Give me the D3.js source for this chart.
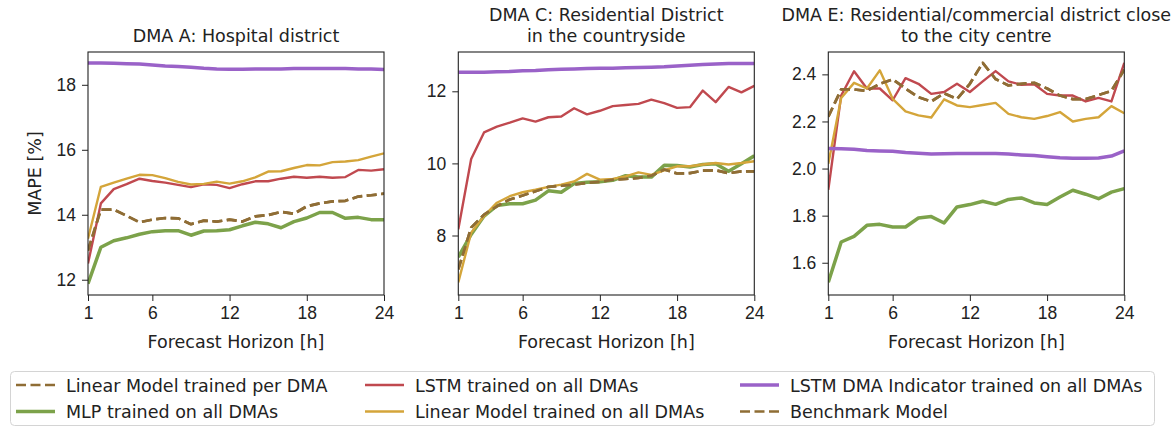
<!DOCTYPE html>
<html>
<head>
<meta charset="utf-8">
<script src="https://cdn.jsdelivr.net/npm/d3@7"></script>
<style>
  html, body { margin: 0; padding: 0; background: #fff; }
  svg { display: block; font-family: "DejaVu Sans", sans-serif; }
  .tick text { font-size: 17.5px; fill: #222; }
  .tick line { stroke: #222; }
  .domain { stroke: none; }
</style>
</head>
<body>
<svg id="chart" width="1175" height="427"></svg>
<script>
// Forecast horizon in hours
const hours = [1, 2, 3, 4, 5, 6, 7, 8, 9, 10, 11, 12, 13, 14, 15, 16, 17, 18, 19, 20, 21, 22, 23, 24];
const xTicks = [1, 6, 12, 18, 24];

// DMA A: Hospital district (MAPE %)
const dmaA_linearPerDma = [12.9, 14.16, 14.16, 13.97, 13.77, 13.85, 13.90, 13.89, 13.71, 13.82, 13.79, 13.85, 13.79, 13.95, 13.99, 14.09, 14.03, 14.26, 14.35, 14.41, 14.43, 14.56, 14.60, 14.65];
const dmaA_mlp = [11.88, 13.00, 13.20, 13.29, 13.40, 13.48, 13.51, 13.51, 13.37, 13.50, 13.51, 13.54, 13.66, 13.77, 13.72, 13.60, 13.79, 13.90, 14.07, 14.07, 13.89, 13.92, 13.85, 13.85];
const dmaA_lstm = [12.5, 14.35, 14.79, 14.94, 15.11, 15.04, 14.99, 14.92, 14.85, 14.94, 14.92, 14.82, 14.94, 15.03, 15.03, 15.11, 15.17, 15.14, 15.17, 15.14, 15.16, 15.38, 15.36, 15.40];
const dmaA_linearAll = [13.26, 14.86, 14.99, 15.11, 15.23, 15.22, 15.13, 15.01, 14.93, 14.95, 15.02, 14.96, 15.03, 15.15, 15.33, 15.34, 15.44, 15.53, 15.52, 15.62, 15.64, 15.68, 15.79, 15.89];
const dmaA_lstmIndicator = [18.67, 18.67, 18.66, 18.65, 18.64, 18.61, 18.58, 18.56, 18.54, 18.51, 18.49, 18.48, 18.48, 18.49, 18.49, 18.49, 18.50, 18.50, 18.50, 18.50, 18.50, 18.49, 18.49, 18.47];
const dmaA_benchmark = [12.9, 14.16, 14.16, 13.97, 13.77, 13.85, 13.90, 13.89, 13.71, 13.82, 13.79, 13.85, 13.79, 13.95, 13.99, 14.09, 14.03, 14.26, 14.35, 14.41, 14.43, 14.56, 14.60, 14.65];

// DMA C: Residential District in the countryside (MAPE %)
const dmaC_linearPerDma = [7.06, 8.22, 8.58, 8.81, 9.00, 9.11, 9.23, 9.35, 9.38, 9.41, 9.46, 9.49, 9.55, 9.57, 9.60, 9.66, 9.83, 9.72, 9.73, 9.80, 9.81, 9.73, 9.78, 9.78];
const dmaC_mlp = [7.40, 8.03, 8.54, 8.83, 8.88, 8.88, 8.98, 9.24, 9.20, 9.44, 9.48, 9.49, 9.53, 9.66, 9.62, 9.62, 9.95, 9.94, 9.90, 9.97, 9.99, 9.78, 9.99, 10.21];
const dmaC_lstm = [8.17, 10.12, 10.86, 11.02, 11.13, 11.25, 11.16, 11.28, 11.30, 11.53, 11.36, 11.46, 11.59, 11.62, 11.65, 11.77, 11.67, 11.54, 11.56, 12.02, 11.70, 12.12, 11.97, 12.15];
const dmaC_linearAll = [6.70, 8.08, 8.54, 8.91, 9.09, 9.20, 9.27, 9.35, 9.41, 9.50, 9.71, 9.55, 9.57, 9.64, 9.75, 9.68, 9.81, 9.92, 9.92, 9.97, 10.01, 9.97, 10.01, 10.06];
const dmaC_lstmIndicator = [12.53, 12.53, 12.53, 12.54, 12.55, 12.57, 12.58, 12.60, 12.61, 12.62, 12.63, 12.64, 12.64, 12.65, 12.66, 12.67, 12.68, 12.70, 12.72, 12.74, 12.76, 12.77, 12.77, 12.77];
const dmaC_benchmark = [7.06, 8.22, 8.58, 8.81, 9.00, 9.11, 9.23, 9.35, 9.38, 9.41, 9.46, 9.49, 9.55, 9.57, 9.60, 9.66, 9.83, 9.72, 9.73, 9.80, 9.81, 9.73, 9.78, 9.78];

// DMA E: Residential/commercial district close to the city centre (MAPE %)
const dmaE_linearPerDma = [2.22, 2.336, 2.336, 2.33, 2.36, 2.379, 2.34, 2.303, 2.285, 2.32, 2.295, 2.36, 2.449, 2.38, 2.353, 2.36, 2.364, 2.34, 2.31, 2.295, 2.295, 2.312, 2.33, 2.42];
const dmaE_mlp = [1.517, 1.688, 1.712, 1.759, 1.763, 1.752, 1.752, 1.790, 1.796, 1.769, 1.837, 1.847, 1.861, 1.848, 1.869, 1.875, 1.854, 1.847, 1.879, 1.908, 1.891, 1.872, 1.900, 1.915];
const dmaE_lstm = [1.91, 2.31, 2.413, 2.34, 2.34, 2.29, 2.384, 2.36, 2.317, 2.325, 2.36, 2.325, 2.37, 2.414, 2.37, 2.356, 2.358, 2.317, 2.31, 2.31, 2.285, 2.30, 2.285, 2.449];
const dmaE_linearAll = [2.02, 2.30, 2.364, 2.34, 2.417, 2.296, 2.243, 2.226, 2.217, 2.294, 2.268, 2.261, 2.27, 2.279, 2.232, 2.218, 2.211, 2.223, 2.24, 2.20, 2.211, 2.218, 2.265, 2.235];
const dmaE_lstmIndicator = [2.085, 2.084, 2.082, 2.077, 2.075, 2.073, 2.068, 2.065, 2.062, 2.063, 2.064, 2.064, 2.064, 2.064, 2.062, 2.058, 2.055, 2.050, 2.046, 2.044, 2.044, 2.045, 2.053, 2.075];
const dmaE_benchmark = [2.22, 2.336, 2.336, 2.33, 2.36, 2.379, 2.34, 2.303, 2.285, 2.32, 2.295, 2.36, 2.449, 2.38, 2.353, 2.36, 2.364, 2.34, 2.31, 2.295, 2.295, 2.312, 2.33, 2.42];

// Y axis ticks per panel
const dmaA_yTicks = [12, 14, 16, 18];
const dmaC_yTicks = [8, 10, 12];
const dmaE_yTicks = [1.6, 1.8, 2.0, 2.2, 2.4];

// Series names (legend order, column by column)
const seriesNames = [
  "Linear Model trained per DMA",
  "MLP trained on all DMAs",
  "LSTM trained on all DMAs",
  "Linear Model trained on all DMAs",
  "LSTM DMA Indicator trained on all DMAs",
  "Benchmark Model"
];

const seriesStyle = [
  { color: "#8f6d35", width: 2.7, dash: "10,4.5" },
  { color: "#7ca24a", width: 3.5, dash: null },
  { color: "#c0494f", width: 2.4, dash: null },
  { color: "#d4a53a", width: 2.4, dash: null },
  { color: "#9a62c8", width: 3.5, dash: null },
  { color: "#8f6d35", width: 2.7, dash: "10,4.5" }
];

const panels = [
  { title: ["DMA A: Hospital district"], left: 88, domain: [11.53, 19.01], ticks: dmaA_yTicks, fmt: d3.format("d"), ylabel: "MAPE [%]",
    series: [dmaA_linearPerDma, dmaA_mlp, dmaA_lstm, dmaA_linearAll, dmaA_lstmIndicator, dmaA_benchmark] },
  { title: ["DMA C: Residential District", "in the countryside"], left: 458.3, domain: [6.35, 13.09], ticks: dmaC_yTicks, fmt: d3.format("d"), ylabel: null,
    series: [dmaC_linearPerDma, dmaC_mlp, dmaC_lstm, dmaC_linearAll, dmaC_lstmIndicator, dmaC_benchmark] },
  { title: ["DMA E: Residential/commercial district close", "to the city centre"], left: 828.3, domain: [1.463, 2.495], ticks: dmaE_yTicks, fmt: d3.format(".1f"), ylabel: null,
    series: [dmaE_linearPerDma, dmaE_mlp, dmaE_lstm, dmaE_linearAll, dmaE_lstmIndicator, dmaE_benchmark] }
];

const plotW = 296, plotH = 243, plotTop = 52;
const svg = d3.select("#chart");

panels.forEach((p, pi) => {
  const g = svg.append("g").attr("transform", `translate(${p.left},${plotTop})`);
  const x = d3.scaleLinear().domain([1, 24]).range([0, plotW]);
  const y = d3.scaleLinear().domain(p.domain).range([plotH, 0]);

  const clipId = "clip" + pi;
  g.append("clipPath").attr("id", clipId)
    .append("rect").attr("width", plotW).attr("height", plotH);

  const line = d3.line().x((d, i) => x(hours[i])).y(d => y(d));
  const lines = g.append("g").attr("clip-path", `url(#${clipId})`);
  p.series.forEach((vals, si) => {
    const s = seriesStyle[si];
    lines.append("path")
      .datum(vals)
      .attr("d", line)
      .attr("fill", "none")
      .attr("stroke", s.color)
      .attr("stroke-width", s.width)
      .attr("stroke-linejoin", "round")
      .attr("stroke-dasharray", s.dash);
  });

  // axes
  g.append("g")
    .attr("transform", `translate(0,${plotH})`)
    .call(d3.axisBottom(x).tickValues(xTicks).tickSize(6).tickPadding(6).tickFormat(d3.format("d")));
  g.append("g")
    .call(d3.axisLeft(y).tickValues(p.ticks).tickSize(6).tickPadding(6).tickFormat(p.fmt));

  // frame
  g.append("rect")
    .attr("width", plotW).attr("height", plotH)
    .attr("fill", "none").attr("stroke", "#222").attr("stroke-width", 1.1);

  // title
  const cx = plotW / 2;
  const nLines = p.title.length;
  p.title.forEach((t, ti) => {
    g.append("text")
      .attr("x", cx)
      .attr("y", 42 - plotTop - (nLines - 1 - ti) * 21)
      .attr("text-anchor", "middle")
      .attr("font-size", 17.5)
      .attr("fill", "#222")
      .text(t);
  });

  // x label
  g.append("text")
    .attr("x", cx).attr("y", 348 - plotTop)
    .attr("text-anchor", "middle")
    .attr("font-size", 17.5).attr("fill", "#222")
    .text("Forecast Horizon [h]");

  if (p.ylabel) {
    g.append("text")
      .attr("transform", `translate(${41 - p.left},${plotH / 2}) rotate(-90)`)
      .attr("text-anchor", "middle")
      .attr("font-size", 17.5).attr("fill", "#222")
      .text(p.ylabel);
  }
});

// legend
const legend = svg.append("g");
legend.append("rect")
  .attr("x", 10.5).attr("y", 371.5).attr("width", 1144).attr("height", 54)
  .attr("rx", 4).attr("fill", "#fff").attr("stroke", "#d4d4d4").attr("stroke-width", 1);

const colX = [16, 365, 740];
const rowY = [385, 411.5];
seriesNames.forEach((name, i) => {
  const col = Math.floor(i / 2), row = i % 2;
  const s = seriesStyle[i];
  const hx = colX[col], hy = rowY[row];
  legend.append("line")
    .attr("x1", hx).attr("x2", hx + 39).attr("y1", hy).attr("y2", hy)
    .attr("stroke", s.color).attr("stroke-width", s.width)
    .attr("stroke-dasharray", s.dash);
  legend.append("text")
    .attr("x", hx + 50).attr("y", hy + 6.5)
    .attr("font-size", 17.5).attr("fill", "#222")
    .text(name);
});
</script>
</body>
</html>
